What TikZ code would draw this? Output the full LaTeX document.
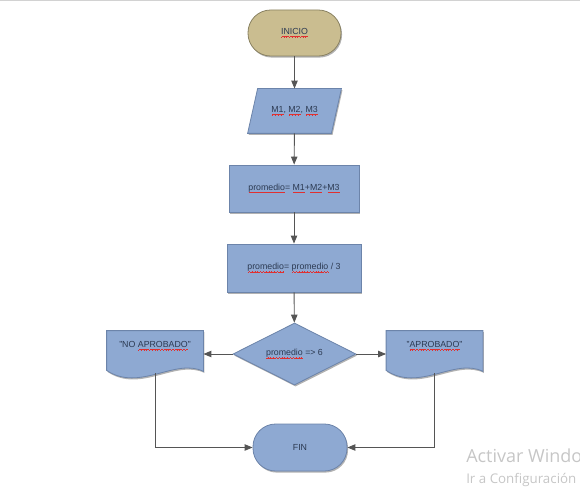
\documentclass[tikz,border=0pt]{standalone}
\usepackage{fontspec}
\setmainfont{Liberation Sans}
\newfontfamily\wmfont{Open Sans}
\usetikzlibrary{shapes.geometric,shadows,arrows.meta,calc,backgrounds}

\definecolor{boxblue}{HTML}{8EA9D2}
\definecolor{boxedge}{HTML}{6C84AA}
\definecolor{starttan}{HTML}{CABD90}
\definecolor{startedge}{HTML}{8A8262}
\definecolor{linkgray}{HTML}{555555}
\definecolor{labelink}{HTML}{2C3A52}
\definecolor{spellred}{HTML}{E03030}

% red wavy underline of the spell checker, built from tiny rules
\newsavebox\spellbox
\newcommand\wavecell{\hbox{%
  \rule[-2.1pt]{0.5pt}{0.45pt}\rule[-1.8pt]{0.5pt}{0.45pt}%
  \rule[-1.5pt]{0.5pt}{0.45pt}\rule[-1.8pt]{0.5pt}{0.45pt}}}
\newcommand\spellmark[1]{\sbox\spellbox{#1}\leavevmode
  \rlap{\textcolor{spellred}{\hbox to\wd\spellbox{\xleaders\wavecell\hfil}}}%
  \usebox\spellbox}

\tikzset{
  flow/.style={font=\fontsize{6.6}{8}\selectfont, text=labelink, inner sep=1pt, line width=0.6pt},
  shade/.style={drop shadow={shadow xshift=0.8pt, shadow yshift=-1.2pt, opacity=0.3, fill=black}},
  terminal/.style={flow, shade, rectangle, rounded corners=17pt},
  startbox/.style={terminal, draw=startedge, fill=starttan, minimum width=69.75pt, minimum height=34.5pt},
  endbox/.style={terminal, draw=boxedge, fill=boxblue, minimum width=70.5pt, minimum height=35.25pt},
  iotext/.style={flow, rectangle, minimum width=62.25pt, minimum height=33pt},
  procbox/.style={flow, shade, rectangle, draw=boxedge, fill=boxblue},
  decbox/.style={flow, shade, diamond, aspect=2, draw=boxedge, fill=boxblue,
    minimum width=92.25pt, minimum height=46.5pt, inner sep=0pt},
  doctext/.style={flow, rectangle, minimum width=72pt, minimum height=22.5pt},
  outline/.style={shade, draw=boxedge, fill=boxblue, line width=0.6pt},
  link/.style={draw=linkgray, line width=0.7pt, -{Triangle[length=6pt,width=4.8pt]}},
  watermark/.style={anchor=base west, inner sep=0pt, text=gray!45},
}

\begin{document}
\begin{tikzpicture}[x=0.75pt, y=-0.75pt]
  \useasboundingbox (0,0) rectangle (580,488);
  \draw[gray!35, line width=0.75pt] (0,0.5) -- (580,0.5);

  % main column
  \node[startbox] (ini) at (294.5,33) {\spellmark{INICIO}};
  \node[iotext] (inp) at (294.5,111) {\spellmark{M1}, \spellmark{M2}, \spellmark{M3}};
  \node[procbox, minimum width=97.5pt, minimum height=35.25pt] (sum) at (294,188.5)
    {\spellmark{promedio}= \spellmark{M1}+\spellmark{M2}+\spellmark{M3}};
  \node[procbox, minimum width=100.5pt, minimum height=36pt] (avg) at (294,268)
    {\spellmark{promedio}= \spellmark{promedio} / 3};
  \node[decbox] (dec) at (294.5,354) {\spellmark{promedio} => 6};

  % output documents
  \node[doctext] (nap) at (155,346) {"NO \spellmark{APROBADO}"};
  \node[doctext] (ap) at (434.5,346) {"\spellmark{APROBADO}"};

  \begin{scope}[on background layer]
    % input parallelogram
    \path[outline] ($(inp.north west)+(5,0)$) -- ($(inp.north east)+(5,0)$)
      -- ($(inp.south east)+(-5,0)$) -- ($(inp.south west)+(-5,0)$) -- cycle;
    % document outlines with wavy bottom edge
    \foreach \d in {nap,ap}{
      \path[outline] (\d.north west) -- (\d.north east) -- ($(\d.south east)+(0,10)$)
        .. controls ($(\d.south east)+(-28,-4)$) and ($(\d.south west)+(33,31)$)
        .. ($(\d.south west)+(0,9)$) -- cycle;
    }
  \end{scope}
  \coordinate (napb) at ($(nap.south)+(0,12)$);
  \coordinate (apb) at ($(ap.south)+(0,12)$);

  \node[endbox] (fin) at (300,447.5) {FIN};

  % connectors
  \draw[link] (ini) -- (inp);
  \draw[link] (inp) -- (sum);
  \draw[link] (sum) -- (avg);
  \draw[link] (avg) -- (dec);
  \draw[link] (dec.west) -- (dec.west -| nap.east);
  \draw[link] (dec.east) -- (dec.east -| ap.west);
  \draw[link] (napb) |- (fin.west);
  \draw[link] (apb) |- (fin.east);

  % system watermark
  \begin{scope}
    \clip (0,0) rectangle (580,488);
    \node[watermark, font=\wmfont\fontsize{13.5}{16}\selectfont] (wm1) at (466,462) {Activar Windows};
    \node[watermark, font=\wmfont\fontsize{10}{12}\selectfont] (wm2) at (466,483) {Ir a Configuración};
  \end{scope}
\end{tikzpicture}
\end{document}
